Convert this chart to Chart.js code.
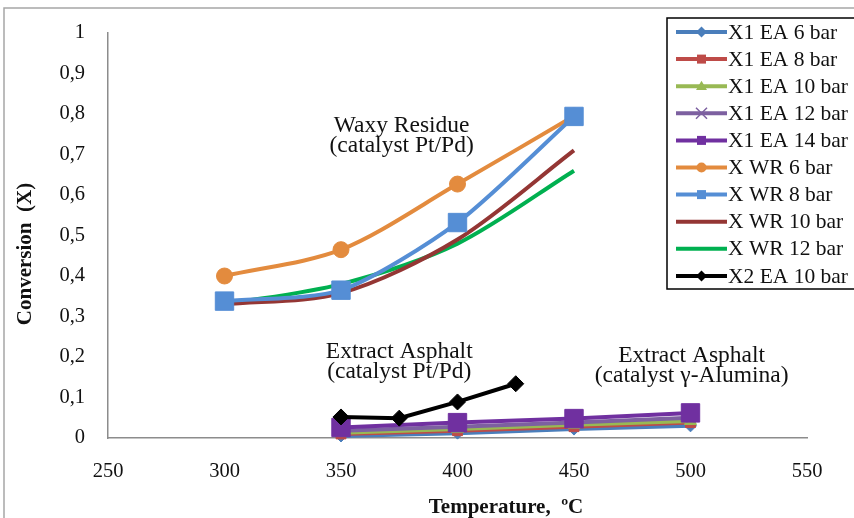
<!DOCTYPE html>
<html>
<head>
<meta charset="utf-8">
<script src="https://cdn.jsdelivr.net/npm/chart.js@4/dist/chart.umd.min.js"></script>
<style>
  body { margin: 0; background: #fff; }
</style>
</head>
<body>
<canvas id="chart" width="854" height="518"></canvas>
<script>
// temperatures (ºC)
const wrTemps = [300, 350, 400, 450];
const ea1Temps = [350, 400, 450, 500];
const ea2Temps = [350, 375, 400, 425];

// conversion values
const x1Ea6 = [0.005, 0.012, 0.022, 0.030];
const x1Ea8 = [0.010, 0.018, 0.028, 0.038];
const x1Ea10 = [0.013, 0.022, 0.033, 0.042];
const x1Ea12 = [0.018, 0.028, 0.038, 0.050];
const x1Ea14 = [0.026, 0.038, 0.048, 0.062];
const xWr6 = [0.400, 0.465, 0.627, 0.795];
const xWr8 = [0.338, 0.365, 0.532, 0.794];
const xWr10 = [0.330, 0.358, 0.490, 0.710];
const xWr12 = [0.330, 0.380, 0.480, 0.660];
const x2Ea10 = [0.052, 0.049, 0.089, 0.134];

const xTicks = [250, 300, 350, 400, 450, 500, 550];
const yTicks = ['0', '0,1', '0,2', '0,3', '0,4', '0,5', '0,6', '0,7', '0,8', '0,9', '1'];

const notes = [
  { x: 376, y: 0.755, lines: ['Waxy Residue', '(catalyst Pt/Pd)'] },
  { x: 375, y: 0.198, lines: ['Extract Asphalt', '(catalyst Pt/Pd)'] },
  { x: 500.5, y: 0.188, lines: ['Extract Asphalt', '(catalyst \u03b3-Alumina)'] }
];

const SERIF = '"Liberation Serif", "Times New Roman", serif';

function pts(xs, ys) {
  return xs.map((x, i) => ({ x: x, y: ys[i] }));
}

function series(label, xs, ys, color, style, radius, order, tension) {
  return {
    label: label,
    data: pts(xs, ys),
    borderColor: color,
    backgroundColor: color,
    pointBackgroundColor: color,
    pointBorderColor: color,
    pointStyle: style || false,
    pointRadius: style ? radius : 0,
    pointBorderWidth: style === 'crossRot' ? 2 : 1,
    borderWidth: 4,
    tension: tension,
    order: order,
    clip: false
  };
}

const datasets = [
  series('X1 EA 6 bar', ea1Temps, x1Ea6, '#4a7ebb', 'rectRot', 6, 9, 0),
  series('X1 EA 8 bar', ea1Temps, x1Ea8, '#be4b48', 'rect', 7, 8, 0),
  series('X1 EA 10 bar', ea1Temps, x1Ea10, '#98b954', 'triangle', 7, 7, 0),
  series('X1 EA 12 bar', ea1Temps, x1Ea12, '#7d60a0', 'crossRot', 6, 6, 0),
  series('X1 EA 14 bar', ea1Temps, x1Ea14, '#7030a0', 'rect', 13, 5, 0),
  series('X WR 6 bar', wrTemps, xWr6, '#e38b3e', 'circle', 8, 2, 0.3),
  series('X WR 8 bar', wrTemps, xWr8, '#558ed5', 'rect', 13, 1, 0.25),
  series('X WR 10 bar', wrTemps, xWr10, '#943634', null, 0, 3, 0.3),
  series('X WR 12 bar', wrTemps, xWr12, '#00b050', null, 0, 4, 0.3),
  series('X2 EA 10 bar', ea2Temps, x2Ea10, '#000000', 'rectRot', 8, 0, 0)
];

function marker(ctx, style, x, y, r, color) {
  ctx.save();
  ctx.fillStyle = color;
  ctx.strokeStyle = color;
  ctx.beginPath();
  if (style === 'circle') {
    ctx.arc(x, y, r, 0, Math.PI * 2);
    ctx.fill();
  } else if (style === 'rect') {
    ctx.fillRect(x - r, y - r, r * 2, r * 2);
  } else if (style === 'rectRot') {
    ctx.moveTo(x, y - r); ctx.lineTo(x + r, y); ctx.lineTo(x, y + r); ctx.lineTo(x - r, y);
    ctx.closePath(); ctx.fill();
  } else if (style === 'triangle') {
    ctx.moveTo(x, y - r); ctx.lineTo(x + r, y + r * 0.7); ctx.lineTo(x - r, y + r * 0.7);
    ctx.closePath(); ctx.fill();
  } else if (style === 'crossRot') {
    ctx.lineWidth = 1.5;
    ctx.moveTo(x - r, y - r); ctx.lineTo(x + r, y + r);
    ctx.moveTo(x + r, y - r); ctx.lineTo(x - r, y + r);
    ctx.stroke();
  }
  ctx.restore();
}

const extras = {
  id: 'extras',
  afterDraw(chart) {
    const ctx = chart.ctx;
    const xs = chart.scales.x, ys = chart.scales.y;
    ctx.save();

    // outer frame
    ctx.strokeStyle = '#a6a6a6';
    ctx.lineWidth = 1.5;
    ctx.beginPath();
    ctx.moveTo(4, 518); ctx.lineTo(4, 8); ctx.lineTo(854, 8);
    ctx.stroke();

    // notes
    ctx.fillStyle = '#111';
    ctx.font = '23.5px ' + SERIF;
    ctx.textAlign = 'center';
    ctx.textBaseline = 'alphabetic';
    notes.forEach(n => {
      const px = xs.getPixelForValue(n.x), py = ys.getPixelForValue(n.y);
      n.lines.forEach((t, i) => ctx.fillText(t, px, py + i * 20));
    });

    // axis titles
    ctx.font = 'bold 21px ' + SERIF;
    ctx.fillText('Temperature,  \u00baC', 506, 513);
    ctx.save();
    ctx.translate(31, 254);
    ctx.rotate(-Math.PI / 2);
    ctx.fillText('Conversion  (X)', 0, 0);
    ctx.restore();

    // legend
    const lx = 667, ly = 18, lh = 27.1;
    ctx.fillStyle = '#fff';
    ctx.fillRect(lx, ly, 190, 271);
    ctx.strokeStyle = '#000';
    ctx.lineWidth = 1.5;
    ctx.strokeRect(lx, ly, 190, 271);
    ctx.font = '21.5px ' + SERIF;
    ctx.textAlign = 'left';
    ctx.textBaseline = 'middle';
    chart.data.datasets.forEach((d, i) => {
      const y = ly + 14 + i * lh;
      ctx.strokeStyle = d.borderColor;
      ctx.lineWidth = 4;
      ctx.beginPath();
      ctx.moveTo(lx + 9, y); ctx.lineTo(lx + 60, y);
      ctx.stroke();
      if (d.pointStyle) {
        const r = d.pointStyle === 'rect' ? 4.5 : (d.pointStyle === 'circle' ? 5 : 5.5);
        marker(ctx, d.pointStyle, lx + 34.5, y, r, d.borderColor);
      }
      ctx.fillStyle = '#111';
      ctx.fillText(d.label, lx + 61, y + 1);
    });
    ctx.restore();
  }
};

new Chart(document.getElementById('chart'), {
  type: 'line',
  data: { datasets: datasets },
  plugins: [extras],
  options: {
    responsive: false,
    animation: false,
    layout: { padding: { top: 33, right: 47, left: 0, bottom: 0 } },
    plugins: { legend: { display: false }, tooltip: { enabled: false } },
    scales: {
      x: {
        type: 'linear',
        min: xTicks[0],
        max: xTicks[xTicks.length - 1],
        afterBuildTicks: s => { s.ticks = xTicks.map(v => ({ value: v })); },
        afterFit: s => { s.height = 80; },
        grid: { display: false },
        border: { display: true, color: '#8c8c8c', width: 1.5 },
        ticks: { color: '#111', padding: 13, font: { family: SERIF, size: 20.5 } }
      },
      y: {
        type: 'linear',
        min: 0,
        max: 1,
        afterBuildTicks: s => { s.ticks = yTicks.map((t, i) => ({ value: i / 10 })); },
        afterFit: s => { s.width = 108; },
        grid: { display: false },
        border: { display: true, color: '#8c8c8c', width: 1.5 },
        ticks: {
          color: '#111',
          padding: 15,
          font: { family: SERIF, size: 20.5 },
          callback: (v, i) => yTicks[i]
        }
      }
    }
  }
});
</script>
</body>
</html>
